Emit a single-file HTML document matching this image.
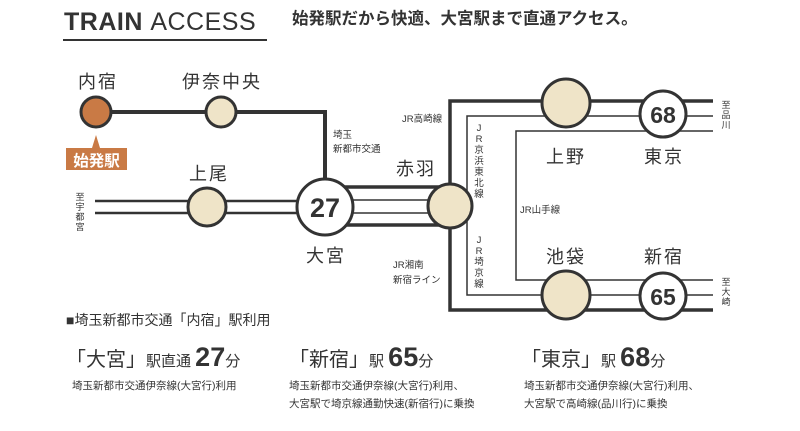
<!DOCTYPE html>
<html><head><meta charset="utf-8"><style>
html,body{margin:0;padding:0;background:#fff;}
svg{display:block;font-family:"Liberation Sans","Noto Sans CJK JP",sans-serif;}
</style></head><body>
<svg width="800" height="431" viewBox="0 0 800 431" xmlns="http://www.w3.org/2000/svg">
<g fill="#333">
<text x="64" y="30" font-size="25" font-weight="bold" letter-spacing="0.5">TRAIN <tspan font-weight="normal">ACCESS</tspan></text>
<text x="292" y="24" font-size="16.5" font-weight="bold">始発駅だから快適、大宮駅まで直通アクセス。</text>
</g>
<rect x="63" y="39" width="204" height="2" fill="#333"/>

<g stroke="#333" fill="none">
<!-- New shuttle line -->
<polyline points="96,112 325,112 325,190" stroke-width="4"/>
<!-- Ageo double line -->
<line x1="95" y1="201" x2="310" y2="201" stroke-width="2.5"/>
<line x1="95" y1="213" x2="310" y2="213" stroke-width="2.5"/>
<!-- Omiya to Akabane -->
<line x1="325" y1="187" x2="450" y2="187" stroke-width="3.5"/>
<line x1="325" y1="200" x2="450" y2="200" stroke-width="1.5"/>
<line x1="325" y1="213" x2="450" y2="213" stroke-width="1.5"/>
<line x1="325" y1="225" x2="450" y2="225" stroke-width="3.5"/>
<!-- outer thick -->
<polyline points="713,101 450,101 450,310 713,310" stroke-width="3.5"/>
<!-- thin -->
<polyline points="713,116 467,116 467,295 713,295" stroke-width="1.5"/>
<polyline points="713,131 516,131 516,280 713,280" stroke-width="1.5"/>
</g>

<g stroke="#333" stroke-width="3">
<circle cx="96" cy="112" r="15" fill="#c97a45"/>
<circle cx="221" cy="112" r="15" fill="#efe4c8"/>
<circle cx="207" cy="207" r="19" fill="#efe4c8"/>
<circle cx="325" cy="207" r="28" fill="#fff"/>
<circle cx="450" cy="206" r="22" fill="#efe4c8"/>
<circle cx="566" cy="103" r="24" fill="#efe4c8"/>
<circle cx="663" cy="114" r="23" fill="#fff"/>
<circle cx="566" cy="295" r="24" fill="#efe4c8"/>
<circle cx="663" cy="296" r="23" fill="#fff"/>
</g>

<!-- start badge -->
<polygon points="96,135 92,148 100,148" fill="#c97a45"/>
<rect x="66" y="148" width="61" height="22" fill="#c97a45"/>
<text x="96.5" y="166" font-size="15.5" font-weight="bold" fill="#fff" text-anchor="middle">始発駅</text>

<g fill="#333" text-anchor="middle" font-size="18" letter-spacing="2">
<text x="98" y="88">内宿</text>
<text x="222" y="88">伊奈中央</text>
<text x="209" y="180">上尾</text>
<text x="326" y="262">大宮</text>
<text x="416" y="175">赤羽</text>
<text x="566" y="163">上野</text>
<text x="664" y="163">東京</text>
<text x="566" y="263">池袋</text>
<text x="664" y="263">新宿</text>
</g>
<g fill="#333" text-anchor="middle" font-weight="bold">
<text x="325" y="217" font-size="27">27</text>
<text x="663" y="123" font-size="23">68</text>
<text x="663" y="305" font-size="23">65</text>
</g>

<g fill="#333" font-size="9.5">
<text x="333" y="138">埼玉</text>
<text x="333" y="152">新都市交通</text>
<text x="402" y="122">JR高崎線</text>
<text x="520" y="213">JR山手線</text>
<text x="393" y="268">JR湘南</text>
<text x="393" y="283">新宿ライン</text>
</g>
<g fill="#333" font-size="9.5" text-anchor="middle">
<text x="479" y="131">J</text><text x="479" y="142">R</text><text x="479" y="153">京</text><text x="479" y="164">浜</text><text x="479" y="175">東</text><text x="479" y="186">北</text><text x="479" y="197">線</text>
<text x="479" y="243">J</text><text x="479" y="254">R</text><text x="479" y="265">埼</text><text x="479" y="276">京</text><text x="479" y="287">線</text>
<text x="726" y="108" font-size="9">至</text><text x="726" y="118" font-size="9">品</text><text x="726" y="128" font-size="9">川</text>
<text x="726" y="285" font-size="9">至</text><text x="726" y="295" font-size="9">大</text><text x="726" y="305" font-size="9">崎</text>
<text x="80" y="200" font-size="9">至</text><text x="80" y="210" font-size="9">宇</text><text x="80" y="220" font-size="9">都</text><text x="80" y="230" font-size="9">宮</text>
</g>

<g fill="#333">
<text x="66" y="325" font-size="14">■埼玉新都市交通「内宿」駅利用</text>
<text x="66" y="366" font-size="20">「大宮」<tspan font-size="15">駅直通 </tspan><tspan font-size="27" font-weight="bold">27</tspan><tspan font-size="15">分</tspan></text>
<text x="289" y="366" font-size="20">「新宿」<tspan font-size="15">駅 </tspan><tspan font-size="27" font-weight="bold">65</tspan><tspan font-size="15">分</tspan></text>
<text x="521" y="366" font-size="20">「東京」<tspan font-size="15">駅 </tspan><tspan font-size="27" font-weight="bold">68</tspan><tspan font-size="15">分</tspan></text>
<g font-size="10.5">
<text x="72" y="389">埼玉新都市交通伊奈線(大宮行)利用</text>
<text x="289" y="389">埼玉新都市交通伊奈線(大宮行)利用、</text>
<text x="289" y="407">大宮駅で埼京線通勤快速(新宿行)に乗換</text>
<text x="524" y="389">埼玉新都市交通伊奈線(大宮行)利用、</text>
<text x="524" y="407">大宮駅で高崎線(品川行)に乗換</text>
</g>
</g>
</svg>
</body></html>
